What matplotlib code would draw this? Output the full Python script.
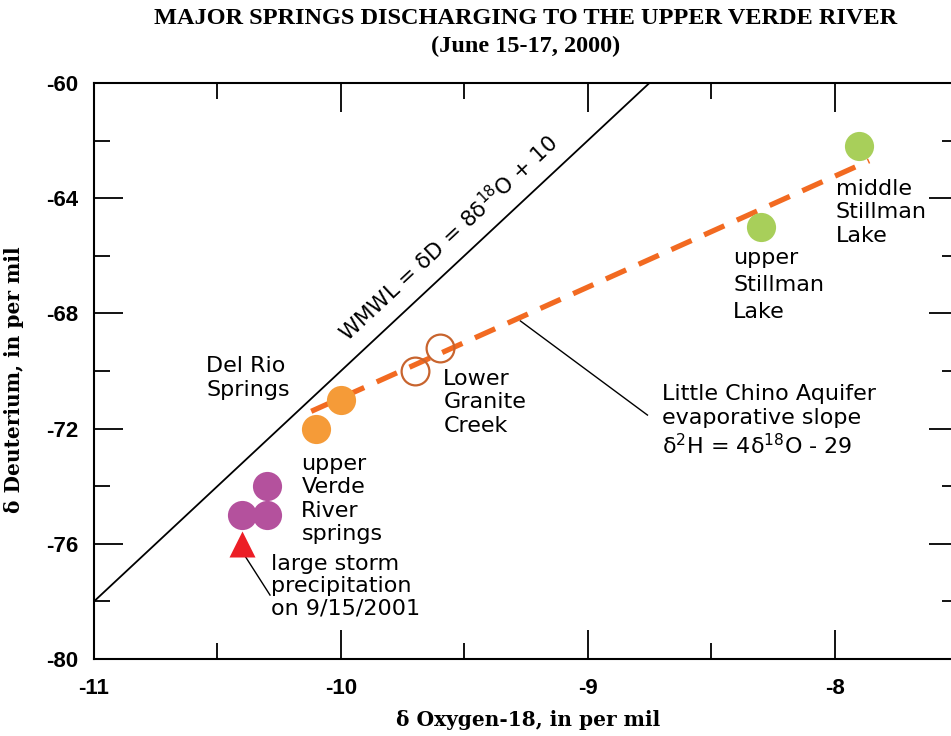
import matplotlib
matplotlib.use("Agg")
import matplotlib.pyplot as plt
from matplotlib.ticker import MultipleLocator

plt.rcParams['font.family'] = ['DejaVu Sans']
plt.rcParams['mathtext.fontset'] = 'dejavusans'

# ---- data ----
stillman_mid_x, stillman_mid_y = [-7.90], [-62.2]
stillman_up_x, stillman_up_y = [-8.30], [-65.0]
granite_x, granite_y = [-9.60, -9.70], [-69.2, -70.0]
delrio_x, delrio_y = [-10.0, -10.1], [-71.0, -72.0]
verde_x, verde_y = [-10.3, -10.3, -10.4], [-74.0, -75.0, -75.0]
storm_x, storm_y = [-10.4], [-76.0]
wmwl_x = [-11.0, -8.75]
wmwl_y = [-78.0, -60.0]
evap_x = [-10.12, -7.86]
evap_y = [-71.4, -62.7]
x_ticks = [-11, -10, -9, -8]
y_ticks = [-80, -76, -72, -68, -64, -60]

fig = plt.figure(figsize=(9.51, 7.36), dpi=100)
ax = fig.add_axes([94/951, 77/736, 864/951, 576/736])

ax.set_xlim(-11, -7.5)
ax.set_ylim(-80, -60)

# lines
ax.plot(wmwl_x, wmwl_y, color='black', lw=1.3, zorder=2)
ax.plot(evap_x, evap_y, color='#F26A21', lw=3.8, dashes=(4.2, 2.6), zorder=3)

# points
ax.plot(stillman_mid_x, stillman_mid_y, 'o', ms=21, color='#A8CF5A', mec='none', zorder=4)
ax.plot(stillman_up_x, stillman_up_y, 'o', ms=21, color='#A8CF5A', mec='none', zorder=4)
ax.plot(granite_x, granite_y, 'o', ms=20, mfc='none', mec='#C8642E', mew=1.6, zorder=4)
ax.plot(delrio_x, delrio_y, 'o', ms=21, color='#F59B38', mec='none', zorder=4)
ax.plot(verde_x, verde_y, 'o', ms=21, color='#B4519D', mec='none', zorder=4)
ax.plot(storm_x, storm_y, '^', ms=19, color='#EC1E26', mec='none', zorder=5)

# leader lines
ax.plot([-9.273, -8.758], [-68.26, -71.53], color='black', lw=1.0, zorder=2)
ax.plot([-10.396, -10.287], [-76.32, -77.78], color='black', lw=1.0, zorder=2)

fs = 16
ls = 1.22
ax.text(-10.546, -70.24, "Del Rio\nSprings", fontsize=fs, ha='left', va='center', linespacing=ls)
ax.text(-10.16, -74.44, "upper\nVerde\nRiver\nsprings", fontsize=fs, ha='left', va='center', linespacing=ls)
ax.text(-9.585, -71.08, "Lower\nGranite\nCreek", fontsize=fs, ha='left', va='center', linespacing=ls)
ax.text(-10.283, -77.47, "large storm\nprecipitation\non 9/15/2001", fontsize=fs, ha='left', va='center', linespacing=1.12)
ax.text(-8.41, -67.01, "upper\nStillman\nLake", fontsize=fs, ha='left', va='center', linespacing=1.42)
ax.text(-7.996, -64.48, "middle\nStillman\nLake", fontsize=fs, ha='left', va='center', linespacing=ls)
ax.text(-8.698, -71.74, "Little Chino Aquifer\nevaporative slope\n\u03b4$^{2}$H = 4\u03b4$^{18}$O - 29",
        fontsize=fs, ha='left', va='center', linespacing=ls)
ax.text(-9.565, -65.38, "WMWL = \u03b4D = 8\u03b4$^{18}$O + 10", fontsize=15.5,
        ha='center', va='center', rotation=43, rotation_mode='anchor')

# axes styling
for s in ['left', 'bottom', 'top']:
    ax.spines[s].set_linewidth(1.5)
ax.spines['right'].set_visible(False)

ax.set_xticks(x_ticks)
ax.set_yticks(y_ticks)
ax.xaxis.set_minor_locator(MultipleLocator(0.5))
ax.yaxis.set_minor_locator(MultipleLocator(2))
ax.tick_params(which='both', direction='in', top=True, right=True, width=1.3, colors='black')
ax.tick_params(which='major', length=21)
ax.tick_params(which='minor', length=11.5)
ax.tick_params(axis='y', pad=11)
ax.tick_params(axis='x', pad=14)
tick_font = dict(fontweight='bold', fontsize=16, fontfamily='Liberation Sans')
ax.set_xticklabels([str(v) for v in x_ticks], **tick_font)
ax.set_yticklabels([str(v) for v in y_ticks], **tick_font)

lab_font = dict(fontfamily='DejaVu Serif', fontweight='bold', fontsize=14.5)
ax.set_xlabel("\u03b4 Oxygen-18, in per mil", **lab_font)
ax.xaxis.set_label_coords((528-94)/864, -(710-659)/576)
ax.set_ylabel("\u03b4 Deuterium, in per mil", **lab_font)
ax.yaxis.set_label_coords(-(94-24)/864, (659-380)/576)

title_font = dict(fontfamily='Liberation Serif', fontweight='bold', fontsize=17.5)
fig.text(526/951, 1 - 18/736, "MAJOR SPRINGS DISCHARGING TO THE UPPER VERDE RIVER",
         ha='center', va='center', **title_font)
fig.text(526/951, 1 - 46/736, "(June 15-17, 2000)",
         ha='center', va='center', **title_font)

fig.savefig("out.png", dpi=100)
